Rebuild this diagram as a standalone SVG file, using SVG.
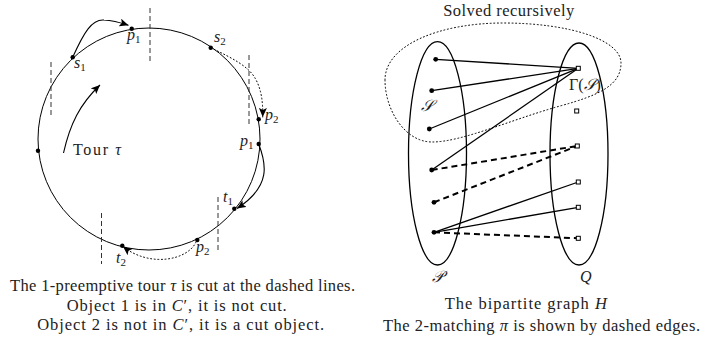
<svg xmlns="http://www.w3.org/2000/svg" width="702" height="350" viewBox="0 0 702 350">
<style>
.bg{fill:#fff}
.thin{fill:none;stroke:#000;stroke-width:1}
.cut{fill:none;stroke:#333;stroke-width:1;stroke-dasharray:5 3}
.dot{fill:none;stroke:#000;stroke-width:1;stroke-dasharray:1 2.6;stroke-linecap:round}
.arr{fill:none;stroke:#000;stroke-width:1.1}
.vtx{fill:#000}
.ell{fill:none;stroke:#000;stroke-width:1.3}
.edge{fill:none;stroke:#000;stroke-width:1.3}
.medge{fill:none;stroke:#000;stroke-width:2;stroke-dasharray:6 4}
.sq{fill:#fff;stroke:#000;stroke-width:1}
.lbl{font-family:"Liberation Serif","DejaVu Serif",serif;font-size:16px;fill:#222}
.m{font-family:"Liberation Serif","DejaVu Serif",serif;font-style:italic;font-size:16px;fill:#222}
.sub{font-family:"Liberation Serif","DejaVu Serif",serif;font-size:11px;fill:#222}
.cap{font-family:"Liberation Serif","DejaVu Serif",serif;font-size:16.5px;fill:#222;text-anchor:middle}
</style>
<defs>
<marker id="ah" markerUnits="userSpaceOnUse" markerWidth="12" markerHeight="10" refX="9" refY="4" orient="auto">
<path d="M0,0 L9,4 L0,8 L2,4 Z" fill="#000"/>
</marker>
</defs>
<rect class="bg" x="0" y="0" width="702" height="350"/>

<!-- Left figure: tour -->
<g id="tour">
<circle class="thin" cx="149" cy="139" r="111"/>
</g>
<g id="cuts">
<line class="cut" x1="150" y1="8" x2="150" y2="61"/>
<line class="cut" x1="51" y1="62" x2="51" y2="115"/>
<line class="cut" x1="249" y1="55" x2="249" y2="127"/>
<line class="cut" x1="218" y1="197" x2="218" y2="250"/>
<line class="cut" x1="101.5" y1="213" x2="101.5" y2="264"/>
</g>
<g id="node-p1-top"><circle class="vtx" cx="131.7" cy="28.7" r="2.2"/><text class="m" x="127" y="40">p<tspan class="sub" font-style="normal" dy="3">1</tspan></text></g>
<g id="node-s1"><circle class="vtx" cx="72.7" cy="57.3" r="2.2"/><text class="m" x="74" y="68">s<tspan class="sub" font-style="normal" dy="3">1</tspan></text></g>
<g id="node-s2"><circle class="vtx" cx="210.7" cy="47.7" r="2.2"/><text class="m" x="214" y="42">s<tspan class="sub" font-style="normal" dy="3">2</tspan></text></g>
<g id="node-p2-right"><circle class="vtx" cx="258.7" cy="119.3" r="2.2"/><text class="m" x="265" y="120">p<tspan class="sub" font-style="normal" dy="3">2</tspan></text></g>
<g id="node-p1-right"><circle class="vtx" cx="258.7" cy="144" r="2.2"/><text class="m" x="240" y="146">p<tspan class="sub" font-style="normal" dy="3">1</tspan></text></g>
<g id="node-t1"><circle class="vtx" cx="234.3" cy="208.7" r="2.2"/><text class="m" x="223" y="202">t<tspan class="sub" font-style="normal" dy="3">1</tspan></text></g>
<g id="node-p2-bottom"><circle class="vtx" cx="197.3" cy="240" r="2.2"/><text class="m" x="196" y="252">p<tspan class="sub" font-style="normal" dy="3">2</tspan></text></g>
<g id="node-t2"><circle class="vtx" cx="122.3" cy="245.7" r="2.2"/><text class="m" x="116" y="263">t<tspan class="sub" font-style="normal" dy="3">2</tspan></text></g>
<g id="node-left"><circle class="vtx" cx="38" cy="150.7" r="2.2"/></g>
<g id="label-tour"><text class="lbl" x="73" y="155" textLength="48">Tour <tspan font-style="italic">τ</tspan></text></g>

<g id="connectors-left">
<path class="arr" d="M72.7,57.3 C84,32 92,19 104,20 C114,20.5 120,22.5 128.5,25.3" marker-end="url(#ah)"/>
<path class="dot" d="M210.7,47.7 C232,58 248,66 255,78 C262,90 263,104 262.7,117" marker-end="url(#ah)"/>
<path class="arr" d="M258.7,144 C266,163 272,186 237,208.5" marker-end="url(#ah)"/>
<path class="dot" d="M196,242 C188,260 150,268 123,246.5" marker-end="url(#ah)"/>
<path class="arr" stroke-width="1.6" d="M63.5,153 C70,124 80,104 100,85" marker-end="url(#ah)"/>
</g>

<!-- Left captions -->
<text class="cap" x="182.5" y="290.5" textLength="345">The 1-preemptive tour <tspan font-style="italic">τ</tspan> is cut at the dashed lines.</text>
<text class="cap" x="176.7" y="310.5" textLength="220">Object 1 is in <tspan font-style="italic">C</tspan>′, it is not cut.</text>
<text class="cap" x="180.7" y="330" textLength="287">Object 2 is not in <tspan font-style="italic">C</tspan>′, it is a cut object.</text>

<!-- Right figure -->
<g id="recursive-region">
<path class="dot" d="M385,80 C385,45 440,23 503,23 C570,23 621,40 621,63 C621,85 600,95 560,106 C510,120 462,142 432,142 C405,142 385,110 385,80 Z"/>
<text class="cap" x="508.7" y="16" textLength="131">Solved recursively</text>
</g>
<g id="set-P">
<ellipse class="ell" cx="437.5" cy="153.3" rx="29" ry="111.7"/>
<text class="lbl" x="432" y="282" font-style="italic">𝒫</text>
</g>
<g id="set-Q">
<ellipse class="ell" cx="579" cy="154" rx="29" ry="111"/>
<text class="m" x="580" y="282">Q</text>
</g>
<g id="label-S"><text class="lbl" x="421" y="111" font-style="italic">𝒮</text></g>
<g id="label-GammaS"><text class="lbl" x="569" y="90">Γ(<tspan font-style="italic">𝒮</tspan>)</text></g>

<g id="connectors-right">
<line class="edge" x1="435.7" y1="59.3" x2="578.3" y2="68.3"/>
<line class="edge" x1="431.7" y1="90.7" x2="578.3" y2="68.3"/>
<line class="edge" x1="429.3" y1="129" x2="578.3" y2="68.3"/>
<line class="edge" x1="431.7" y1="170" x2="578.3" y2="68.3"/>
<line class="edge" x1="434" y1="232.3" x2="578.3" y2="182"/>
<line class="edge" x1="434" y1="232.3" x2="578.3" y2="207.3"/>
<line class="medge" x1="431.7" y1="170" x2="577.3" y2="146"/>
<line class="medge" x1="434" y1="202.3" x2="577.3" y2="146"/>
<line class="medge" x1="434" y1="232.3" x2="578.3" y2="238.3"/>
</g>

<g id="P-vertices">
<circle class="vtx" cx="435.7" cy="59.3" r="2.4"/>
<circle class="vtx" cx="431.7" cy="90.7" r="2.4"/>
<circle class="vtx" cx="429.3" cy="129" r="2.4"/>
<circle class="vtx" cx="431.7" cy="170" r="2.4"/>
<circle class="vtx" cx="434" cy="202.3" r="2.4"/>
<circle class="vtx" cx="434" cy="232.3" r="2.4"/>
</g>
<g id="Q-vertices">
<rect class="sq" x="576.3" y="66.3" width="4" height="4"/>
<rect class="sq" x="574.7" y="109" width="4" height="4"/>
<rect class="sq" x="575.3" y="144" width="4" height="4"/>
<rect class="sq" x="576.3" y="180" width="4" height="4"/>
<rect class="sq" x="576.3" y="205.3" width="4" height="4"/>
<rect class="sq" x="576.3" y="236.3" width="4" height="4"/>
</g>

<text class="cap" x="525.8" y="309" textLength="162">The bipartite graph <tspan font-style="italic">H</tspan></text>
<text class="cap" x="541.5" y="331" textLength="317">The 2-matching <tspan font-style="italic">π</tspan> is shown by dashed edges.</text>
</svg>
